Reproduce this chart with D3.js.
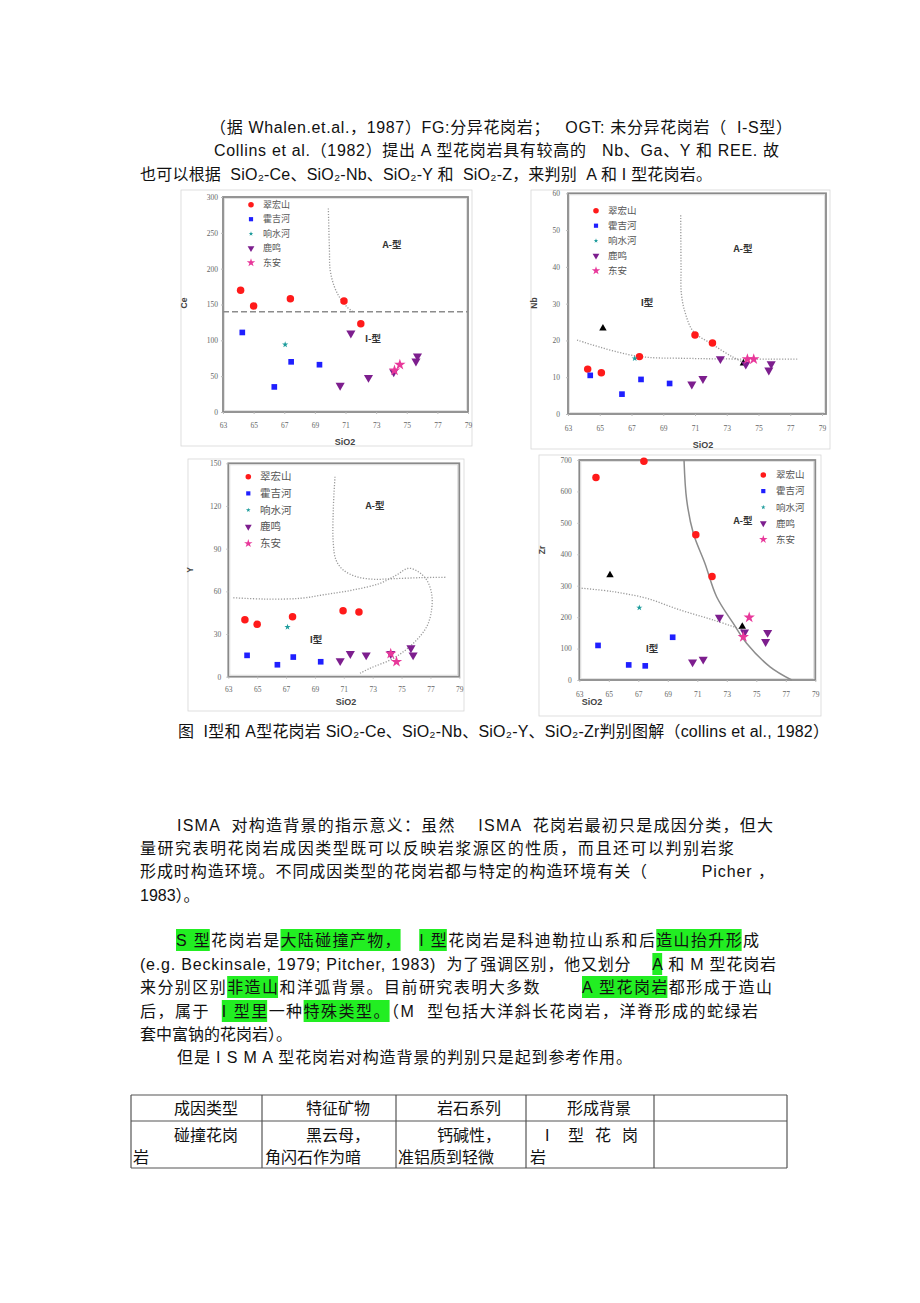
<!DOCTYPE html>
<html>
<head>
<meta charset="utf-8">
<script src="https://cdn.jsdelivr.net/npm/d3@7"></script>
<style>body{margin:0;background:#fff}</style>
</head>
<body>
<script>
// ---- data ----
var xTicks = [63, 65, 67, 69, 71, 73, 75, 77, 79];
var seriesNames = ["翠宏山", "霍吉河", "响水河", "鹿鸣", "东安"];

// SiO2 - Ce
var ceCuihongshan = [[64.15, 170], [65.0, 148], [67.4, 158], [70.9, 155], [72.0, 123]];
var ceHuojihe = [[64.26, 111], [67.45, 70], [69.3, 66], [66.35, 35]];
var ceXiangshuihe = [[67.06, 94]];
var ceLuming = [[71.35, 110], [70.65, 37], [72.5, 48], [74.15, 56], [75.6, 71], [75.7, 78]];
var ceDongan = [[74.2, 58], [74.55, 66]];
var ceLimit = 140;
var ceCurve = [[69.88, 284], [69.95, 226], [70.0, 198], [70.27, 175], [70.64, 159], [71.08, 147], [71.47, 140]];

// SiO2 - Nb
var nbCuihongshan = [[64.24, 12.2], [65.1, 11.2], [67.5, 15.6], [71.0, 21.5], [72.1, 19.3]];
var nbHuojihe = [[64.4, 10.5], [66.4, 5.4], [67.6, 9.4], [69.4, 8.3]];
var nbXiangshuihe = [[67.2, 15.1]];
var nbLuming = [[70.8, 8.1], [71.5, 9.6], [72.6, 15.0], [74.2, 13.5], [75.65, 11.9], [75.8, 13.6]];
var nbDongan = [[74.3, 14.9], [74.7, 14.9]];
var nbOther = [[65.2, 23.3], [74.05, 13.8]];
var nbCurveA = [[70.1, 54], [70.12, 40], [70.14, 32.8], [70.39, 27.4], [70.9, 22.4], [72.07, 19.0], [73.33, 15.6], [74.17, 13.8]];
var nbCurveB = [[63.57, 20.1], [67.24, 15.8], [70.81, 15.1], [77.5, 14.9]];

// SiO2 - Y
var yCuihongshan = [[64.15, 40.1], [65.0, 36.8], [67.45, 42.2], [70.95, 46.4], [72.05, 45.5]];
var yHuojihe = [[64.3, 15], [66.4, 8.4], [67.5, 13.8], [69.4, 10.5]];
var yXiangshuihe = [[67.1, 34.9]];
var yLuming = [[70.75, 11.2], [71.45, 16.2], [72.55, 15.2], [74.25, 16.2], [75.65, 20.2], [75.8, 15.2]];
var yDongan = [[74.25, 16.2], [74.65, 10.5]];
var yCurveA = [[70.39, 140.6], [70.27, 117], [70.27, 94], [70.46, 82], [70.96, 75], [71.89, 70.3], [73.04, 68.5], [74.43, 68.9], [76.28, 69.6], [78.12, 69.9]];
var yCurveB = [[63.35, 55.5], [65.42, 54.6], [67.97, 55.1], [69.8, 57.9], [71.66, 61], [73.5, 65.6], [74.66, 71.5], [75.47, 76.2], [76.16, 73.8], [76.74, 68], [77.08, 58.6], [77.08, 46.9], [76.74, 35.1], [75.82, 23.5], [74.43, 12.9], [72.81, 5.9], [72.12, 2.4]];

// SiO2 - Zr
var zrCuihongshan = [[64.13, 644], [67.38, 696], [70.9, 462], [72.0, 329]];
var zrHuojihe = [[64.27, 110], [66.35, 48], [67.47, 45], [69.33, 136]];
var zrXiangshuihe = [[67.07, 230]];
var zrLuming = [[70.68, 57], [71.4, 66], [72.5, 199], [74.2, 152], [75.63, 122], [75.77, 151]];
var zrDongan = [[74.52, 199], [74.12, 137]];
var zrOther = [[65.08, 334], [74.05, 170]];
var zrCurveA = [[70.1, 700], [70.28, 573], [70.73, 467], [71.52, 371], [72.31, 265], [73.44, 180], [74.34, 117], [75.93, 42], [77.4, 0]];
var zrCurveB = [[63.16, 292], [65.3, 281], [67.56, 260], [69.82, 223], [72.08, 191], [74.12, 159]];

// ---- page ----
var W = 920, H = 1303;
var svg = d3.select("body").append("svg")
    .attr("width", W).attr("height", H).style("display", "block");
svg.append("rect").attr("width", W).attr("height", H).attr("fill", "#fff");

var serif = "'Liberation Serif','DejaVu Serif',serif";
var cjk = "'Noto Sans CJK SC',sans-serif";
var body = "'Liberation Sans','Noto Sans CJK SC',sans-serif";

var markers = [
    {type: d3.symbolCircle, size: 44, fill: "#ff1a1a"},
    {type: d3.symbolSquare, size: 32, fill: "#1f1fff"},
    {type: d3.symbolStar, size: 12, fill: "#1d9c9c"},
    {type: d3.symbolTriangle, size: 36, fill: "#7d1e8e", rot: 180},
    {type: d3.symbolStar, size: 40, fill: "#e8389a"}
];

var charts = [
    {left: 223, right: 468, top: 197, bottom: 412, yMax: 300, yStep: 50,
     img: [181, 190, 472, 446], yGap: 5, xOff: 14,
     yTitle: "Ce", yTitlePos: [184, 303], xTitlePos: [345, 442],
     legend: {x: 251, y: 204.7, dy: 14.5, tx: 263, fs: 9},
     labels: [["A-型", 392, 245], ["I-型", 373, 339]],
     series: [ceCuihongshan, ceHuojihe, ceXiangshuihe, ceLuming, ceDongan],
     dotted: [ceCurve], solid: [], limit: ceLimit},
    {left: 568, right: 822, top: 193.3, bottom: 414, yMax: 60, yStep: 10,
     img: [531, 190, 830, 449], yGap: 8, xOff: 15, frameExtra: 4,
     yTitle: "Nb", yTitlePos: [534, 303], xTitlePos: [703, 445],
     legend: {x: 596, y: 210.7, dy: 15, tx: 608, fs: 9.5},
     labels: [["A-型", 743, 249], ["I型", 647, 303]],
     series: [nbCuihongshan, nbHuojihe, nbXiangshuihe, nbLuming, nbDongan],
     other: nbOther, dotted: [nbCurveA, nbCurveB], solid: []},
    {left: 228.3, right: 459.3, top: 463.3, bottom: 676.7, yMax: 150, yStep: 30,
     img: [188, 459, 464, 711], yGap: 7, xOff: 13,
     yTitle: "Y", yTitlePos: [190, 570], xTitlePos: [346, 702],
     legend: {x: 248.3, y: 476.7, dy: 16.7, tx: 260, fs: 10.5},
     labels: [["A-型", 375, 506], ["I型", 316, 640]],
     series: [yCuihongshan, yHuojihe, yXiangshuihe, yLuming, yDongan],
     dotted: [yCurveA, yCurveB], solid: []},
    {left: 579.3, right: 815.3, top: 460, bottom: 680, yMax: 700, yStep: 100,
     img: [539, 455, 821, 716], yGap: 7.5, xOff: 15,
     yTitle: "Zr", yTitlePos: [542, 550], xTitlePos: [592, 702],
     legend: {x: 763.3, y: 475, dy: 16.1, tx: 776, fs: 9.5},
     labels: [["A-型", 743, 521], ["I型", 652, 649]],
     series: [zrCuihongshan, zrHuojihe, zrXiangshuihe, zrLuming, zrDongan],
     other: zrOther, dotted: [zrCurveB], solid: [zrCurveA]}
];

function symbolPath(m, k) {
    return d3.symbol().type(m.type).size(m.size * k)();
}

function drawChart(c) {
    var x = d3.scaleLinear().domain([63, 79]).range([c.left, c.right]);
    var y = d3.scaleLinear().domain([0, c.yMax]).range([c.bottom, c.top]);
    var g = svg.append("g");

    g.append("rect").attr("x", c.img[0]).attr("y", c.img[1])
        .attr("width", c.img[2] - c.img[0]).attr("height", c.img[3] - c.img[1])
        .attr("fill", "none").attr("stroke", "#d6d6d6").attr("stroke-width", 0.8);

    var ext = c.frameExtra || 0;
    g.append("rect").attr("x", c.left).attr("y", c.top)
        .attr("width", c.right - c.left + ext).attr("height", c.bottom - c.top)
        .attr("fill", "none").attr("stroke", "#8a8a8a").attr("stroke-width", 1.8);
    g.append("rect").attr("x", c.left + 1.6).attr("y", c.top + 1.6)
        .attr("width", c.right - c.left + ext - 3.2).attr("height", c.bottom - c.top - 3.2)
        .attr("fill", "none").attr("stroke", "#d0d0d0").attr("stroke-width", 0.6);

    var xAxis = g.append("g").attr("transform", "translate(0," + c.bottom + ")")
        .call(d3.axisBottom(x).tickValues(xTicks).tickSize(2).tickPadding(c.xOff - 5).tickFormat(d3.format("d")));
    var yAxis = g.append("g").attr("transform", "translate(" + c.left + ",0)")
        .call(d3.axisLeft(y).tickValues(d3.range(0, c.yMax + 1, c.yStep)).tickSize(2).tickPadding(c.yGap - 2).tickFormat(d3.format("d")));
    [xAxis, yAxis].forEach(function (a) {
        a.select(".domain").remove();
        a.selectAll("line").attr("stroke", "#bbb");
        a.selectAll("text").attr("font-family", serif).attr("font-size", 7.5).attr("fill", "#666");
    });

    g.append("text").attr("transform", "translate(" + c.yTitlePos[0] + "," + c.yTitlePos[1] + ") rotate(-90)")
        .attr("text-anchor", "middle").attr("dy", "0.35em")
        .attr("font-family", body).attr("font-weight", "bold").attr("font-size", 8.5).attr("fill", "#444")
        .text(c.yTitle);
    g.append("text").attr("x", c.xTitlePos[0]).attr("y", c.xTitlePos[1])
        .attr("text-anchor", "middle").attr("dy", "0.35em")
        .attr("font-family", body).attr("font-weight", "bold").attr("font-size", 9).attr("fill", "#444")
        .text("SiO2");

    var line = d3.line().x(function (d) { return x(d[0]); }).y(function (d) { return y(d[1]); })
        .curve(d3.curveCatmullRom);
    c.dotted.forEach(function (pts) {
        g.append("path").attr("d", line(pts)).attr("fill", "none")
            .attr("stroke", "#9a9a9a").attr("stroke-width", 1.3).attr("stroke-dasharray", "1.2,1.6");
    });
    c.solid.forEach(function (pts) {
        g.append("path").attr("d", line(pts)).attr("fill", "none")
            .attr("stroke", "#8c8c8c").attr("stroke-width", 1.5);
    });
    if (c.limit !== undefined) {
        g.append("line").attr("x1", c.left).attr("x2", c.right)
            .attr("y1", y(c.limit)).attr("y2", y(c.limit))
            .attr("stroke", "#8c8c8c").attr("stroke-width", 1.5).attr("stroke-dasharray", "6,3");
    }

    c.labels.forEach(function (l) {
        g.append("text").attr("x", l[1]).attr("y", l[2]).attr("dy", "0.35em")
            .attr("text-anchor", "middle").attr("font-family", cjk).attr("font-weight", "bold")
            .attr("font-size", 9.5).attr("fill", "#333").text(l[0]);
    });

    if (c.other) {
        g.selectAll("path.other").data(c.other).enter().append("path").attr("class", "other")
            .attr("transform", function (d) { return "translate(" + x(d[0]) + "," + y(d[1]) + ")"; })
            .attr("d", d3.symbol().type(d3.symbolTriangle).size(24)()).attr("fill", "#000");
    }

    c.series.forEach(function (pts, i) {
        var m = markers[i];
        g.selectAll("path.s" + i).data(pts).enter().append("path").attr("class", "s" + i)
            .attr("transform", function (d) {
                return "translate(" + x(d[0]) + "," + y(d[1]) + ")" + (m.rot ? " rotate(" + m.rot + ")" : "");
            })
            .attr("d", symbolPath(m, 1)).attr("fill", m.fill);
    });

    var lg = c.legend;
    seriesNames.forEach(function (name, i) {
        var m = markers[i];
        var yy = lg.y + i * lg.dy;
        g.append("path").attr("transform", "translate(" + lg.x + "," + yy + ")" + (m.rot ? " rotate(" + m.rot + ")" : ""))
            .attr("d", symbolPath(m, 0.55)).attr("fill", m.fill);
        g.append("text").attr("x", lg.tx).attr("y", yy).attr("dy", "0.35em")
            .attr("font-family", cjk).attr("font-size", lg.fs).attr("fill", "#555").text(name);
    });
}

charts.forEach(drawChart);

// ---- running text ----
var hlG = svg.append("g");
var textG = svg.append("g");

function addLine(str, x1, cy, x2, fs) {
    fs = fs || 16;
    var t = textG.append("text").attr("x", x1).attr("y", cy + fs * 0.36)
        .style("white-space", "pre").attr("font-size", fs)
        .attr("font-family", body).attr("fill", "#111").text(str);
    if (x2) t.attr("textLength", x2 - x1).attr("lengthAdjust", "spacing");
    return t;
}

function highlight(t, sub, cy) {
    var s = t.text(), i = s.indexOf(sub), n = t.node();
    var a = n.getExtentOfChar(i), b = n.getExtentOfChar(i + sub.length - 1);
    hlG.append("rect").attr("x", a.x).attr("y", cy - 11)
        .attr("width", b.x + b.width - a.x).attr("height", 22).attr("fill", "#22ee22");
}

addLine("（据 Whalen.et.al.，1987）FG:分异花岗岩；   OGT: 未分异花岗岩（  I-S型）", 210, 127, 792);
addLine("Collins et al.（1982）提出 A 型花岗岩具有较高的   Nb、Ga、Y 和 REE. 故", 214, 150, 779);
addLine("也可以根据  SiO₂-Ce、SiO₂-Nb、SiO₂-Y 和  SiO₂-Z，来判别  A 和 I 型花岗岩。", 140, 174, 712);

addLine("图  I型和 A型花岗岩 SiO₂-Ce、SiO₂-Nb、SiO₂-Y、SiO₂-Zr判别图解（collins et al., 1982）", 178, 731, 829);

addLine("ISMA  对构造背景的指示意义：虽然    ISMA  花岗岩最初只是成因分类，但大", 177, 825, 773);
addLine("量研究表明花岗岩成因类型既可以反映岩浆源区的性质，而且还可以判别岩浆", 140, 848, 734);
addLine("形成时构造环境。不同成因类型的花岗岩都与特定的构造环境有关（          Picher ，", 140, 871, 774);
addLine("1983）。", 140, 895);

var p1 = addLine("S 型花岗岩是大陆碰撞产物，   I 型花岗岩是科迪勒拉山系和后造山抬升形成", 176, 940, 759);
var p2 = addLine("(e.g. Beckinsale, 1979; Pitcher, 1983)  为了强调区别，他又划分    A 和 M 型花岗岩", 140, 964, 776);
var p3 = addLine("来分别区别非造山和洋弧背景。目前研究表明大多数       A 型花岗岩都形成于造山", 140, 987, 772);
var p4 = addLine("后，属于  I 型里一种特殊类型。（M  型包括大洋斜长花岗岩，洋脊形成的蛇绿岩", 140, 1011, 758);
addLine("套中富钠的花岗岩）。", 140, 1034);
addLine("但是 I S M A 型花岗岩对构造背景的判别只是起到参考作用。", 177, 1057, 632);

highlight(p1, "S 型", 940);
highlight(p1, "大陆碰撞产物，", 940);
highlight(p1, "I 型", 940);
highlight(p1, "造山抬升形", 940);
highlight(p2, "A", 964);
highlight(p3, "非造山", 987);
highlight(p3, "A 型花岗岩", 987);
highlight(p4, "I 型里", 1011);
highlight(p4, "特殊类型。", 1011);

// ---- table ----
var colX = [131, 262, 396, 526, 654, 787];
var rowY = [1095, 1121, 1168];
var tg = svg.append("g").attr("stroke", "#555").attr("stroke-width", 1.2);
colX.forEach(function (cx) {
    tg.append("line").attr("x1", cx).attr("x2", cx).attr("y1", rowY[0]).attr("y2", rowY[2]);
});
rowY.forEach(function (ry) {
    tg.append("line").attr("x1", colX[0]).attr("x2", colX[5]).attr("y1", ry).attr("y2", ry);
});
addLine("成因类型", 174, 1108);
addLine("特征矿物", 306, 1108);
addLine("岩石系列", 437, 1108);
addLine("形成背景", 567, 1108);
addLine("碰撞花岗", 174, 1135);
addLine("黑云母，", 306, 1135);
addLine("钙碱性，", 437, 1135);
addLine("I  型 花 岗", 545, 1135, 638);
addLine("岩", 133, 1157);
addLine("角闪石作为暗", 265, 1157);
addLine("准铝质到轻微", 398, 1157);
addLine("岩", 530, 1157);
</script>
</body>
</html>
